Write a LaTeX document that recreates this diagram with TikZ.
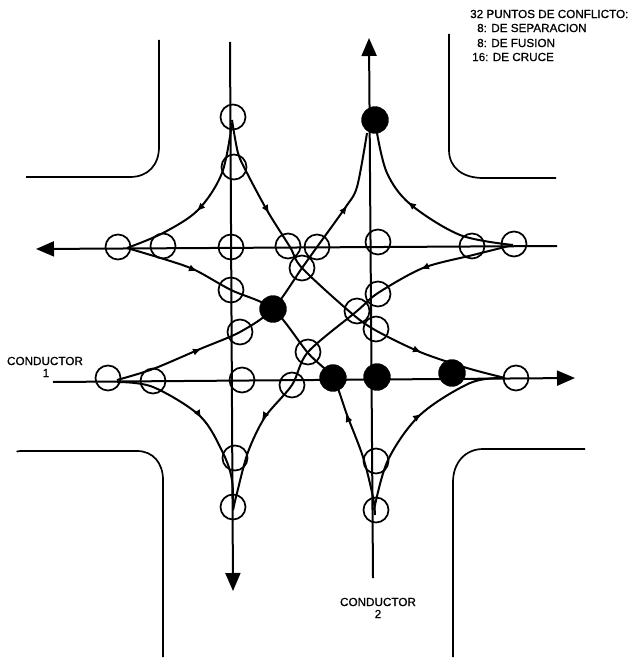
\documentclass[tikz,border=0pt]{standalone}
\usepackage{fontspec}
\setmainfont{Liberation Sans}
\newfontfamily\lblfont[FakeBold=0.8]{Liberation Sans}
\usetikzlibrary{arrows.meta}
\tikzset{
  x=1pt,y=-1pt,
  kerb/.style={line width=1.7pt},
  path1/.style={line width=2pt},
  openc/.style={circle,draw=black,line width=1.7pt,minimum size=25pt,inner sep=0pt},
  fullc/.style={circle,fill=black,draw=black,line width=0.3pt,minimum size=27pt,inner sep=0pt},
  tip/.style={-{Latex[length=8pt,width=7pt]},line width=1pt},
  bigtip/.style={-{Triangle[length=18pt,width=15pt]},line width=2pt},
  lab/.style={font=\lblfont\fontsize{11.7}{12}\selectfont,inner sep=0pt,anchor=west},
  labc/.style={font=\lblfont\fontsize{11.7}{12}\selectfont,inner sep=0pt,anchor=center}
}
\begin{document}
\begin{tikzpicture}
\useasboundingbox (0,0) rectangle (632,663);
% kerbs
\draw[kerb] (159,40) -- (159,147) .. controls (159,165) and (148,177) .. (130,177) -- (26,177);
\draw[kerb] (449,34) -- (449,150) .. controls (449,168) and (463,178) .. (483,178) -- (556,178);
\draw[kerb] (17,452) .. controls (17,451) and (18,451) .. (30,451) -- (137,451) .. controls (153,451) and (163,463) .. (163,480) -- (163,657);
\draw[kerb] (585,449) -- (483,449) .. controls (465,449) and (453,463) .. (453,482) -- (453,657);
% through roads
\coordinate (wEnd) at (36,249); \coordinate (eTop) at (557,246);
\coordinate (wBot) at (53,382); \coordinate (eEnd) at (575,378);
\coordinate (nL) at (230,42);  \coordinate (sEnd) at (233,591);
\coordinate (nEnd) at (369,38); \coordinate (sR) at (373,578);
\draw[bigtip] (eTop) -- (wEnd);
\draw[bigtip] (wBot) -- (eEnd);
\draw[bigtip] (nL) -- (sEnd);
\draw[bigtip] (sR) -- (nEnd);
% movement paths
\draw[path1] plot[smooth,tension=0.55] coordinates {(232,123) (222,173) (198,210) (163,233) (127,248)};
\draw[path1] plot[smooth,tension=0.55] coordinates {(377,133) (387,173) (410,204) (460,235) (513,245)};
\draw[path1] plot[smooth,tension=0.55] coordinates {(117,382) (153,387) (200,416) (223,453) (232,480) (233,510)};
\draw[path1] plot[smooth,tension=0.55] coordinates {(374,510) (388,460) (420,415) (470,383) (503,378)};
\draw[path1] plot[smooth,tension=0.5] coordinates {(232,120) (238,153) (247,173) (268,212) (290,247) (302,268) (350,312) (375,330) (420,352) (467,368) (505,378)};
\draw[path1] plot[smooth,tension=0.5] coordinates {(127,248) (167,260) (195,270) (231,290) (273,309) (308,353) (333,378) (347,415) (363,457) (373,497) (375,515)};
\draw[path1] plot[smooth,tension=0.5] coordinates {(367,133) (357,187) (345,208) (317,247) (302,268) (273,309) (240,332) (200,349) (153,369) (117,380)};
\draw[path1] plot[smooth,tension=0.5] coordinates {(513,245) (473,255) (423,268) (378,293) (357,311) (308,352) (292,385) (265,417) (248,452) (237,493) (233,510)};
% small direction tips
\draw[tip] (201,207) -- (197,211);
\draw[tip] (266,208) -- (269,213);
\draw[tip] (192,269) -- (197,271);
\draw[tip] (344,210) -- (347,206);
\draw[tip] (413,206) -- (408,202);
\draw[tip] (426,267) -- (421,269);
\draw[tip] (196,351) -- (201,349);
\draw[tip] (198,413) -- (201,418);
\draw[tip] (416,350) -- (421,352);
\draw[tip] (265,415) -- (262,420);
\draw[tip] (348,419) -- (346,414);
\draw[tip] (417,417) -- (421,414);
% conflict points
\foreach \n/\x/\y in {a1/233/117,a2/234/167,a3/118/247,a4/163/246,a5/231/247,a6/288/246,a7/317/247,
 a8/378/242,a9/472/246,a10/514/244,a11/302/268,a12/231/290,a13/378/294,a14/357/311,
 a15/376/329,a16/240/332,a17/308/352,a18/108/378,a19/153/381,a20/242/380,a21/292/385,
 a22/516/378,a23/235/458,a24/233/507,a25/376/461,a26/376/510}
 \node[openc] (\n) at (\x,\y) {};
\foreach \n/\x/\y in {b1/375/120,b2/273/309,b3/333/378,b4/377/377,b5/452/373}
 \node[fullc] (\n) at (\x,\y) {};
% labels
\node[lab] (t1) at (470,14) {32 PUNTOS DE CONFLICTO:};
\node[lab] (t2) at (477,28) {8: DE SEPARACION};
\node[lab] (t3) at (477,43) {8: DE FUSION};
\node[lab] (t4) at (472,57) {16: DE CRUCE};
\node[labc] (c1) at (45,361) {CONDUCTOR};
\node[labc] (c1n) at (46,373) {1};
\node[labc] (c2) at (378,602) {CONDUCTOR};
\node[labc] (c2n) at (378,614) {2};
\end{tikzpicture}
\end{document}
